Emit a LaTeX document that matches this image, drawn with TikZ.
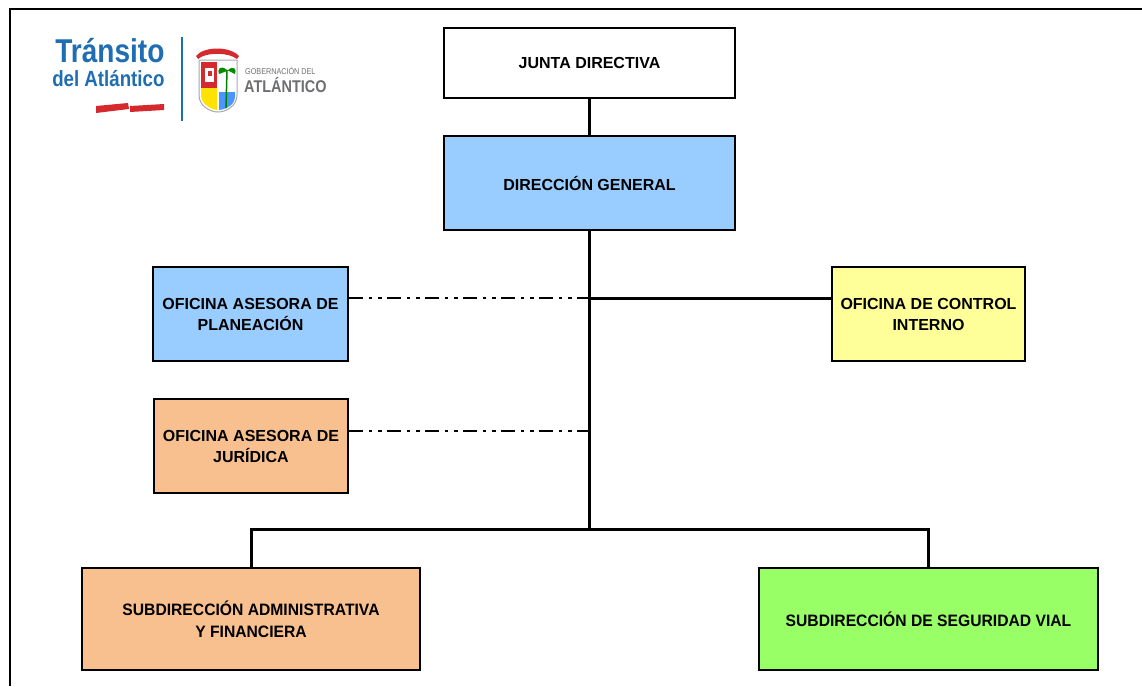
\documentclass[tikz,border=0pt]{standalone}
\usepackage{fontspec}
\setmainfont{Liberation Sans}
\newfontfamily\narrowfont[FakeStretch=0.85]{Liberation Sans}
\newfontfamily\subfont[FakeStretch=0.95]{Liberation Sans}
\usepackage{xcolor}
\usepackage{tikz}
\usetikzlibrary{calc,positioning}
\definecolor{azulcaja}{HTML}{99CCFF}
\definecolor{amarillocaja}{HTML}{FFFF99}
\definecolor{naranjacaja}{HTML}{F9C08F}
\definecolor{verdecaja}{HTML}{99FF66}
\definecolor{azullogo}{HTML}{1F6DB3}
\definecolor{rojologo}{HTML}{D42A2E}
\definecolor{grislogo}{HTML}{6D6E71}
\begin{document}
\begin{tikzpicture}[x=1pt,y=-1pt,
		box/.style={draw=black,line width=2pt,align=center,font=\fontsize{16}{21}\selectfont\bfseries,inner sep=0pt},
		subbox/.style={box,font=\subfont\fontsize{16.5}{22}\selectfont\bfseries},
		conn/.style={line width=3pt,black},
		dashline/.style={line width=2.5pt,black,dash pattern=on 14pt off 5.5pt on 3.5pt off 6pt on 3.5pt off 5.5pt}]
		\useasboundingbox (0,0) rectangle (1142,686);
		% marco
		\draw[line width=2pt] (10,686) -- (10,9) -- (1142,9);
		% logo
		\node[azullogo,font=\narrowfont\fontsize{33}{33}\selectfont\bfseries,anchor=base east] (transito) at (168,62) {Tránsito};
		\node[azullogo,font=\narrowfont\fontsize{22}{22}\selectfont\bfseries,anchor=base east] (atlantico) at (168,86) {del Atlántico};
		\fill[rojologo] (96,106) -- (128,103) -- (129,109) -- (96,113) -- cycle;
		\fill[rojologo] (130,106) -- (164,104) -- (164,110) -- (130,112) -- cycle;
		\draw[azullogo,line width=1.5pt] (182,37) -- (182,121);
		\fill[rojologo] (196,56) .. controls (204,46) and (230,46) .. (239,56) -- (237,59) .. controls (228,52) and (206,52) .. (198,59) -- cycle;
		\draw[grislogo!60,line width=1pt] (199,60) -- (199,95) .. controls (199,106) and (210,112) .. (218,112) .. controls (226,112) and (237,106) .. (237,95) -- (237,60) -- cycle;
		\fill[rojologo] (201,62) rectangle (217,88);
		\fill[white] (205,68) rectangle (214,82);
		\fill[rojologo] (208,71) rectangle (212,76);
		\fill[yellow!85!orange] (201,88) -- (217,88) -- (217,110) .. controls (209,109) and (201,103) .. (201,95) -- cycle;
		\fill[blue!60!cyan!70] (219,92) -- (235,92) -- (235,96) .. controls (235,104) and (228,109) .. (219,110) -- cycle;
		\draw[green!50!black,line width=1.5pt] (226,108) -- (227,70);
		\fill[green!55!black] (227,70) .. controls (220,64) and (217,70) .. (219,74) -- (227,71) .. controls (234,64) and (237,70) .. (235,74) -- cycle;
		\node[grislogo,font=\narrowfont\fontsize{8.5}{9}\selectfont,anchor=base west,inner sep=0pt] (gobernacion) at (245,74) {GOBERNACIÓN DEL};
		\node[grislogo,font=\narrowfont\fontsize{17}{17}\selectfont\bfseries,anchor=base west,inner sep=0pt] (atlanticogob) at (244,92) {ATLÁNTICO};
		% cajas
		\node[box,fill=white,minimum width=291pt,minimum height=70pt] (junta) at (589.5,63) {JUNTA DIRECTIVA};
		\node[box,fill=azulcaja,minimum width=291pt,minimum height=94pt] (direccion) at (589.5,183) {DIRECCIÓN GENERAL};
		\node[box,fill=azulcaja,minimum width=195pt,minimum height=94pt] (planeacion) at (250.5,314) {OFICINA ASESORA DE\\PLANEACIÓN};
		\node[box,fill=amarillocaja,minimum width=193pt,minimum height=94pt] (control) at (928.5,314) {OFICINA DE CONTROL\\INTERNO};
		\node[box,fill=naranjacaja,minimum width=194pt,minimum height=94pt] (juridica) at (251,446) {OFICINA ASESORA DE\\JURÍDICA};
		\node[subbox,fill=naranjacaja,minimum width=338pt,minimum height=102pt] (admin) at (251,619) {SUBDIRECCIÓN ADMINISTRATIVA\\Y FINANCIERA};
		\node[subbox,fill=verdecaja,minimum width=339pt,minimum height=102pt] (vial) at (928.5,619) {SUBDIRECCIÓN DE SEGURIDAD VIAL};
		% conectores
		\coordinate (ctrl) at (589.5,298);
		\coordinate (jur) at (589.5,431);
		\coordinate (split) at (589.5,529);
		\draw[conn] (junta) -- (direccion);
		\draw[conn] (direccion) -- (split);
		\draw[conn] (ctrl) -- (ctrl -| control.west);
		\draw[dashline] (ctrl -| planeacion.east) -- (ctrl);
		\draw[dashline] (jur -| juridica.east) -- (jur);
		\draw[conn] (admin) |- (split) -| (vial);
	\end{tikzpicture}
\end{document}
